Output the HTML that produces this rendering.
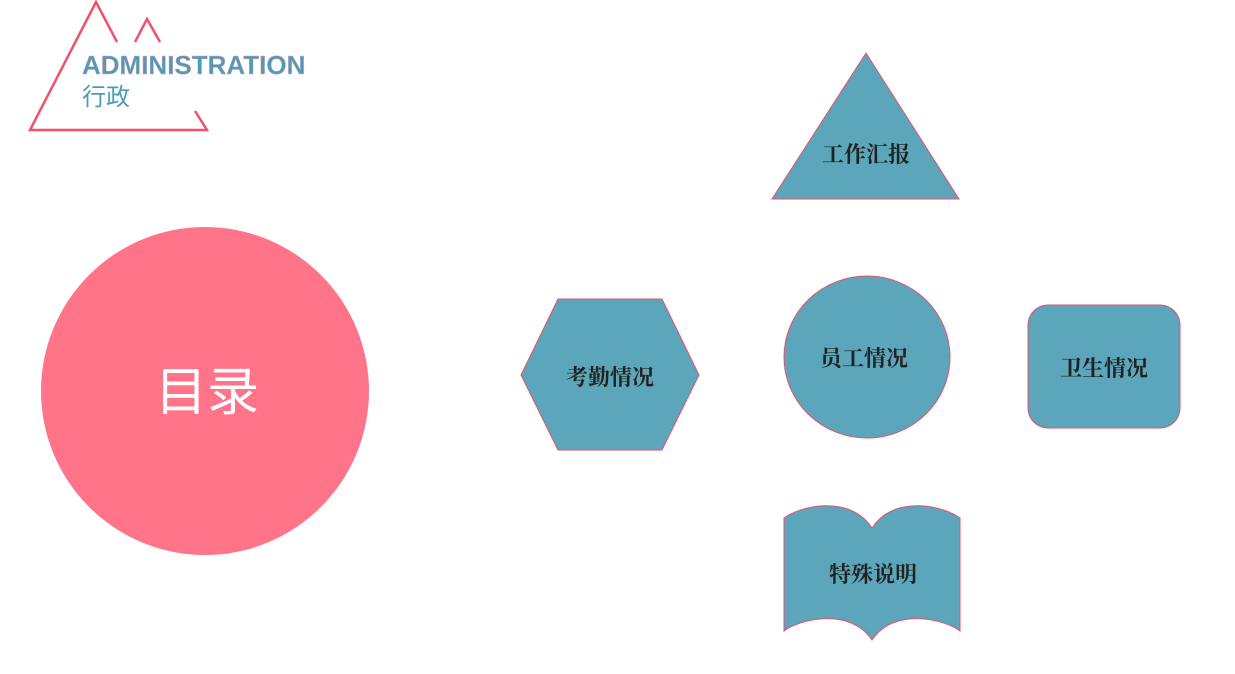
<!DOCTYPE html>
<html><head><meta charset="utf-8"><style>
body{margin:0;width:1235px;height:674px;background:#fff;overflow:hidden}
svg{display:block}
.t{font-family:"Liberation Serif","Noto Serif CJK SC",serif;font-weight:bold;font-size:22px;fill:#222;text-anchor:middle}
</style></head><body>
<svg width="1235" height="674" viewBox="0 0 1235 674">
<g fill="none" stroke="#f2506c" stroke-width="2.5">
<polyline points="117,42 96,2 30,130 207,130 195,111"/>
<polyline points="135,42 147,19 160,42"/>
</g>
<text x="82" y="74" font-family="Liberation Sans,sans-serif" font-weight="bold" font-size="26" fill="#4c9cb8" stroke="#f6a0b0" stroke-width="0.4">ADMINISTRATION</text>
<text x="82" y="105" font-family="Liberation Sans,'Noto Sans CJK SC',sans-serif" font-size="24" fill="#4c9cb8">行政</text>
<circle cx="205" cy="391" r="164" fill="#ff7489"/>
<text x="207" y="410" font-family="Liberation Sans,'Noto Sans CJK SC',sans-serif" font-size="52" fill="#fff" text-anchor="middle">目录</text>
<g fill="#5ba6ba" stroke="#e8506e" stroke-width="1">
<polygon points="866,53 959,199 772,199"/>
<polygon points="558,299 662,299 699,375 662,450 558,450 521,375"/>
<ellipse cx="867" cy="357" rx="83" ry="81"/>
<rect x="1028" y="305" width="152" height="123" rx="20"/>
<path d="M784,518 C800,506 850,494 872,528 C894,494 944,506 960,518 L960,631 C944,619 894,607 872,640 C850,607 800,619 784,631 Z"/>
</g>
<text class="t" x="866" y="162">工作汇报</text>
<text class="t" x="610" y="385">考勤情况</text>
<text class="t" x="864" y="366">员工情况</text>
<text class="t" x="1104" y="376">卫生情况</text>
<text class="t" x="873" y="582">特殊说明</text>
</svg>
</body></html>
